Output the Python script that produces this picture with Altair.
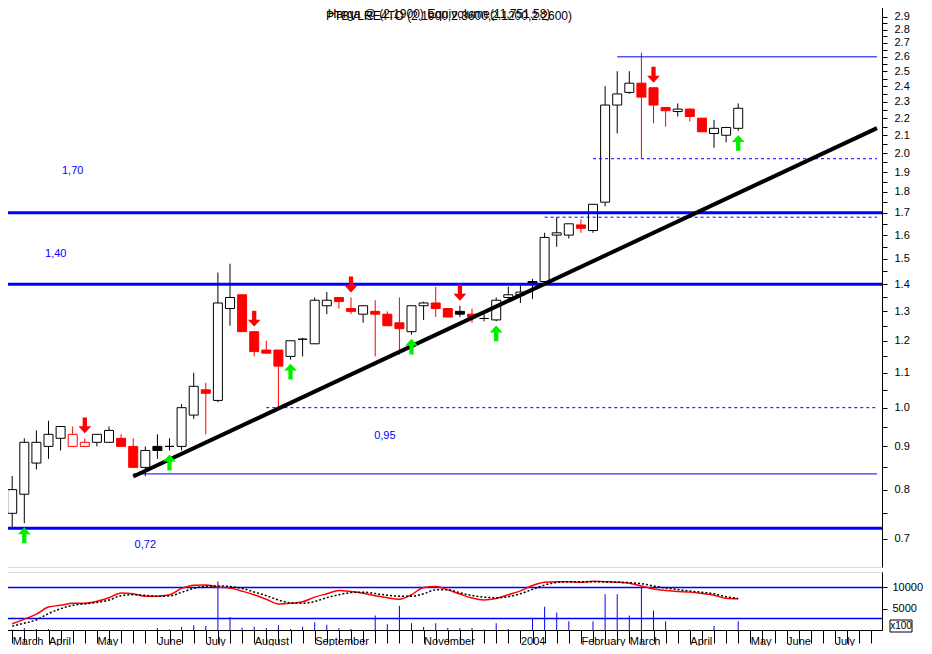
import altair as alt
import pandas as pd

# ---------------- weekly candles ----------------
opens  = [0.75,0.79,0.86,0.90,0.92,0.90,0.90,0.91,0.91,0.92,
          0.90,0.85,0.90,0.90,0.90,0.98,1.05,1.02,1.31,1.36,
          1.23,1.17,1.17,1.15,1.205,1.19,1.32,1.35,1.31,1.29,
          1.30,1.29,1.26,1.23,1.32,1.33,1.31,1.30,1.29,1.275,
          1.27,1.35,1.36,1.41,1.41,1.60,1.60,1.645,1.62,1.75,
          2.28,2.36,2.42,2.39,2.265,2.24,2.255,2.20,2.11,2.10,2.14]
highs  = [0.83,0.92,0.94,0.965,0.95,0.95,0.92,0.93,0.95,0.93,
          0.92,0.90,0.93,0.92,1.01,1.10,1.07,1.445,1.48,1.36,
          1.23,1.20,1.17,1.20,1.21,1.35,1.37,1.35,1.35,1.32,
          1.34,1.30,1.35,1.32,1.335,1.39,1.31,1.32,1.31,1.29,
          1.35,1.39,1.395,1.42,1.61,1.68,1.65,1.67,1.74,2.40,
          2.50,2.50,2.63,2.39,2.265,2.29,2.26,2.20,2.19,2.145,2.29]
lows   = [0.72,0.73,0.845,0.87,0.89,0.90,0.90,0.90,0.91,0.90,
          0.85,0.83,0.87,0.89,0.89,0.97,0.93,1.015,1.25,1.23,
          1.15,1.16,1.00,1.14,1.15,1.19,1.29,1.31,1.29,1.26,
          1.15,1.25,1.155,1.22,1.27,1.28,1.28,1.28,1.26,1.265,
          1.265,1.34,1.33,1.345,1.40,1.55,1.585,1.61,1.61,1.73,
          2.11,2.35,1.97,2.17,2.15,2.21,2.18,2.12,2.03,2.06,2.125]
closes = [0.80,0.91,0.91,0.93,0.95,0.93,0.91,0.93,0.94,0.90,
          0.85,0.89,0.89,0.90,1.00,1.06,1.04,1.33,1.35,1.23,
          1.165,1.16,1.12,1.20,1.205,1.34,1.34,1.335,1.30,1.32,
          1.29,1.25,1.24,1.32,1.33,1.31,1.28,1.29,1.28,1.275,
          1.34,1.36,1.37,1.40,1.59,1.61,1.65,1.63,1.74,2.28,
          2.35,2.42,2.33,2.28,2.245,2.255,2.21,2.12,2.14,2.145,2.26]
kinds = ["up","up","up","up","up","redhollow","redhollow","up","up","down",
         "down","up","blackfill","up","up","up","down","up","up","down",
         "down","down","down","up","up","up","up","down","down","up",
         "down","down","down","up","up","down","down","blackfill","down","up",
         "up","up","up","blackfill","up","up","up","down","up","up",
         "up","up","down","down","down","up","down","down","up","up","up"]

# volume (x100)
volumes = [100,455,227,227,0,0,0,0,0,0,
           0,0,455,100,750,1136,909,11364,3023,523,
           750,455,1136,227,750,1818,1205,455,227,0,
           3409,1364,5682,1591,682,1591,455,455,455,100,
           1591,227,0,2727,5455,4091,2045,0,2045,8409,
           8409,3409,10000,4545,2045,0,100,0,909,0,2045]

# oscillator and its signal line
osc = [10.7,18.8,27.5,39.5,42.5,46.2,46.2,49.5,55.7,63.7,
       62.5,58.3,58.3,60.7,71.7,77.3,77.8,74.0,72.2,67.0,
       60.8,53.0,45.0,46.0,48.7,56.7,62.5,68.0,66.2,63.3,
       59.2,55.5,53.0,60.8,73.3,75.0,69.2,62.0,55.0,51.7,
       54.2,60.8,67.5,76.7,82.2,83.3,83.0,82.2,84.2,83.3,
       82.5,80.8,75.8,70.8,68.0,66.5,65.3,63.0,60.0,54.7,53.7]
osc_signal = [6.7,11.7,17.5,28.3,36.7,42.5,45.0,47.5,51.7,59.2,
              60.8,59.7,58.3,58.7,65.0,71.7,75.3,76.0,75.0,71.7,
              65.5,59.2,51.7,47.0,46.2,49.2,55.8,60.8,64.5,65.3,
              62.8,60.0,58.3,58.3,62.5,69.2,69.5,64.2,59.5,56.7,
              55.5,57.5,62.5,70.0,77.5,82.0,83.3,83.3,83.3,83.0,
              82.3,81.7,80.0,75.8,72.5,70.0,67.2,65.0,62.5,57.5,54.2]
osc_levels = [73.3, 20.0]

# axis labels
month_ticks = [0, 3, 7, 12, 16, 20, 25, 34, 42, 47, 51, 56, 61, 64, 68]
month_names = ["March", "April", "May", "June", "July", "August", "September", "November",
               "2004", "February", "March", "April", "May", "June", "July"]
price_ticks = [0.70,0.75,0.80,0.85,0.90,0.95,1.00,1.05,1.10,1.15,1.20,1.25,1.30,1.35,
               1.40,1.45,1.50,1.55,1.60,1.65,1.70,1.75,1.80,1.85,1.90,1.95,2.00,2.05,
               2.10,2.15,2.20,2.25,2.30,2.35,2.40,2.45,2.50,2.55,2.60,2.65,2.70,2.75,
               2.80,2.85,2.90]
vol_ticks = [5000, 10000]

# signals
red_arrow_idx = [6, 20, 28, 37, 53]
green_arrow_idx = [1, 13, 23, 33, 40, 60]

# drawn levels / trendline
thick_levels = [1.70, 1.40, 0.72]
thin_prices, thin_starts = [0.835, 2.60], [10, 50]
dash_prices, dash_starts = [1.00, 1.97, 1.68], [21, 48, 44]
trend_idx, trend_price = [10, 71.47], [0.829, 2.141]
note_texts = ["1,70", "1,40", "0,95", "0,72"]
note_idx = [5.0, 3.6, 30.8, 11.0]
note_price = [1.906, 1.519, 0.926, 0.688]
title_texts = ["PTBVLRE4TO (2.1900,2.3600,2.1200,2.2600)",
               "Harga @ (2.1900) Equivolume(11,751.58)"]

X_MIN, X_MAX = -0.43, 71.47
P_MIN, P_MAX = 0.648, 2.986
W, H1, H2 = 880, 561, 58
FONT = "Liberation Sans"
BLUE = "#0000ff"
RED = "#ff0000"
GREEN = "#00ee00"

# ---------------- frames ----------------
n = len(opens)
candles = pd.DataFrame({
    "idx": list(range(n)), "open": opens, "high": highs, "low": lows,
    "close": closes, "kind": kinds,
})
candles["body_lo"] = candles[["open", "close"]].min(axis=1)
candles["body_hi"] = candles[["open", "close"]].max(axis=1)

ind = pd.DataFrame({"idx": list(range(n)), "vol": volumes, "osc": osc, "sig": osc_signal})

xs = alt.Scale(domain=[X_MIN, X_MAX], nice=False, zero=False)
ys = alt.Scale(type="log", domain=[P_MIN, P_MAX], nice=False)

y_axis = alt.Axis(orient="right", values=price_ticks, title=None, grid=False,
                  labelExpr="abs(datum.value*10 - round(datum.value*10)) < 0.01 ? format(datum.value, '.1f') : ''",
                  tickSize=5, tickColor="black", domainColor="black", labelColor="black",
                  labelFont=FONT, labelFontSize=11, labelPadding=7, labelOverlap=False,
                  labelBound=False, labelFlush=False)

def X(field="idx"):
    return alt.X(f"{field}:Q", scale=xs, axis=None)

def Y(field):
    return alt.Y(f"{field}:Q", scale=ys, axis=y_axis)

kind_dom = ["up", "down", "redhollow", "blackfill"]
fill_scale = alt.Scale(domain=kind_dom, range=["white", RED, "white", "black"])
stroke_scale = alt.Scale(domain=kind_dom, range=["black", RED, RED, "black"])

base = alt.Chart(candles)

wicks = base.mark_rule(strokeWidth=1).encode(
    x=X(), y=Y("low"), y2="high",
    color=alt.Color("kind:N", scale=stroke_scale, legend=None))

bodies = base.mark_bar(size=9, strokeWidth=1, opacity=1).encode(
    x=X(), y=Y("body_lo"), y2="body_hi",
    fill=alt.Fill("kind:N", scale=fill_scale, legend=None),
    stroke=alt.Stroke("kind:N", scale=stroke_scale, legend=None))

thick = alt.Chart(pd.DataFrame({"price": thick_levels})).mark_rule(
    color=BLUE, strokeWidth=3).encode(y=Y("price"))

thin = alt.Chart(pd.DataFrame({"price": thin_prices, "x0": thin_starts,
                               "x1": [X_MAX] * len(thin_prices)})).mark_rule(
    color=BLUE, strokeWidth=1).encode(x=X("x0"), x2="x1", y=Y("price"))

dashed = alt.Chart(pd.DataFrame({"price": dash_prices, "x0": dash_starts,
                                 "x1": [X_MAX] * len(dash_prices)})).mark_rule(
    color=BLUE, strokeWidth=1, strokeDash=[3, 3]).encode(x=X("x0"), x2="x1", y=Y("price"))

top_border = alt.Chart(pd.DataFrame({"price": [P_MAX]})).mark_rule(
    color="black", strokeWidth=1).encode(y=Y("price"))

trend = alt.Chart(pd.DataFrame({"idx": trend_idx, "price": trend_price})).mark_line(
    color="black", strokeWidth=4).encode(x=X(), y=Y("price"))

down_path = "M -0.27 -1 L 0.27 -1 L 0.27 0.125 L 0.81 0.125 L 0 1 L -0.81 0.125 L -0.27 0.125 Z"
up_path = "M -0.27 1 L 0.27 1 L 0.27 -0.125 L 0.81 -0.125 L 0 -1 L -0.81 -0.125 L -0.27 -0.125 Z"

red_arrows = alt.Chart(candles[candles["idx"].isin(red_arrow_idx)]).mark_point(
    shape=down_path, filled=True, size=250, color=RED, opacity=1, yOffset=-13).encode(
    x=X(), y=Y("high"))
green_arrows = alt.Chart(candles[candles["idx"].isin(green_arrow_idx)]).mark_point(
    shape=up_path, filled=True, size=250, color=GREEN, opacity=1, yOffset=12).encode(
    x=X(), y=Y("low"))

notes = alt.Chart(pd.DataFrame({"t": note_texts, "idx": note_idx, "price": note_price})).mark_text(
    color=BLUE, font=FONT, fontSize=11).encode(x=X(), y=Y("price"), text="t:N")

title1 = alt.Chart(pd.DataFrame({"t": [title_texts[0]]})).mark_text(
    font=FONT, fontSize=12, color="black").encode(x=alt.value(447), y=alt.value(10), text="t:N")
title2 = alt.Chart(pd.DataFrame({"t": [title_texts[1]]})).mark_text(
    font=FONT, fontSize=12, color="black").encode(x=alt.value(437), y=alt.value(8), text="t:N")

price_panel = alt.layer(
    wicks, bodies, thick, thin, dashed, top_border, trend,
    red_arrows, green_arrows, notes, title1, title2
).properties(width=W, height=H1)

# ---------------- indicator panel ----------------
label_expr = "''"
for t, nm in reversed(list(zip(month_ticks, month_names))):
    label_expr = f"datum.value == {t} ? ' {nm}' : ({label_expr})"

x_axis = alt.Axis(orient="bottom", values=list(range(0, 72)), labelExpr=label_expr,
                  title=None, grid=False, tickSize=13, tickColor="black",
                  domainColor="black", labelColor="black", labelFont=FONT,
                  labelFontSize=11, labelAlign="left", labelBaseline="top",
                  labelPadding=-8, labelOverlap=False, labelBound=False,
                  labelFlush=False)

Xb = alt.X("idx:Q", scale=xs, axis=x_axis)
vs = alt.Scale(domain=[0, 13600], nice=False)
os_ = alt.Scale(domain=[0, 100], nice=False)

vol = alt.Chart(ind).mark_bar(size=1, color=BLUE, opacity=1).encode(
    x=Xb,
    y=alt.Y("vol:Q", scale=vs, axis=alt.Axis(orient="right", values=vol_ticks, format="d",
                                              title=None, grid=False, tickSize=5,
                                              tickColor="black", domainColor="black",
                                              labelColor="black", labelFont=FONT,
                                              labelFontSize=11, labelPadding=5)))

lev = alt.Chart(pd.DataFrame({"v": osc_levels})).mark_rule(color=BLUE, strokeWidth=1.5).encode(
    y=alt.Y("v:Q", scale=os_, axis=None))

osc_line = alt.Chart(ind).mark_line(color=RED, strokeWidth=1.5, interpolate="monotone").encode(
    x=Xb, y=alt.Y("osc:Q", scale=os_, axis=None))
sig_line = alt.Chart(ind).mark_line(color="black", strokeWidth=1.5, strokeDash=[2, 2],
                                    interpolate="monotone").encode(
    x=Xb, y=alt.Y("sig:Q", scale=os_, axis=None))

one = pd.DataFrame({"t": ["x100"]})
box = alt.Chart(one).mark_rect(fill="white", stroke="black", strokeWidth=1).encode(
    x=alt.value(W + 8), x2=alt.value(W + 30), y=alt.value(H2 - 10), y2=alt.value(H2 + 2))
box_t = alt.Chart(one).mark_text(font=FONT, fontSize=10, color="black").encode(
    x=alt.value(W + 19), y=alt.value(H2 - 4), text="t:N")

ind_panel = alt.layer(vol, lev, osc_line, sig_line, box, box_t).resolve_scale(
    y="independent").properties(width=W, height=H2)

chart = alt.vconcat(price_panel, ind_panel, spacing=3,
                    padding={"left": -8, "top": -3, "right": 0, "bottom": -1}).configure_view(
    stroke=None).configure(background="white")

chart.save("out.html", embed_options={"renderer": "svg", "actions": False})
